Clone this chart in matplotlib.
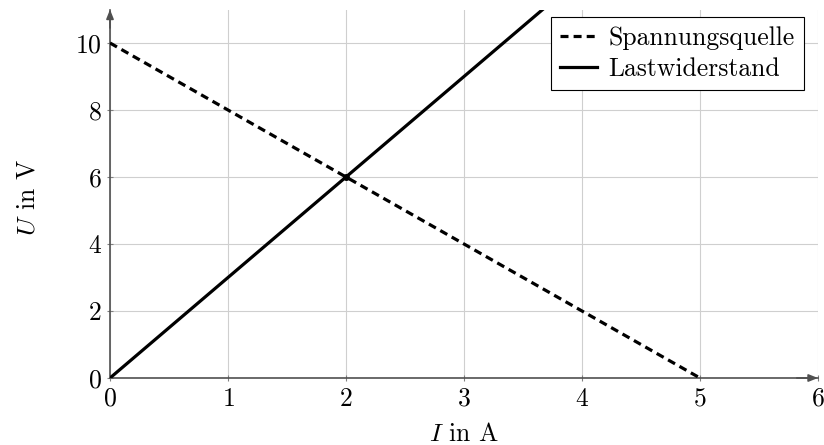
import matplotlib
matplotlib.use("Agg")
import matplotlib.pyplot as plt

# Kennlinien: Spannungsquelle (U0 = 10 V, Ik = 5 A) und Lastwiderstand (R = 3 Ohm)
source_I = [0, 5]
source_U = [10, 0]
load_I = [0, 4]
load_U = [0, 12]
work_point = (2, 6)

x_ticks = [0, 1, 2, 3, 4, 5, 6]
y_ticks = [0, 2, 4, 6, 8, 10]

plt.rcParams["font.family"] = ["cmr10", "DejaVu Serif"]
plt.rcParams["mathtext.fontset"] = "cm"
plt.rcParams["axes.formatter.use_mathtext"] = True

FS = 18.5
AXIS_COLOR = "#505050"


def add_arrow_heads(ax):
    """Small arrow tips at the ends of both axes."""
    style = "-|>,head_length=0.55,head_width=0.22"
    ax.annotate("", xy=(1.0, 0), xytext=(0.97, 0), xycoords="axes fraction",
                arrowprops=dict(arrowstyle=style, color=AXIS_COLOR, lw=1.2,
                                shrinkA=0, shrinkB=0), annotation_clip=False)
    ax.annotate("", xy=(0, 1.0), xytext=(0, 0.95), xycoords="axes fraction",
                arrowprops=dict(arrowstyle=style, color=AXIS_COLOR, lw=1.2,
                                shrinkA=0, shrinkB=0), annotation_clip=False)


def main():
    fig = plt.figure(figsize=(8.24, 4.45), dpi=100)
    fig.patch.set_facecolor("white")

    ax = fig.add_axes([110 / 824, 67 / 445, 708 / 824, 368.5 / 445])

    ax.plot(source_I, source_U, color="black", lw=2.3, dashes=(2.5, 1.6),
            dash_capstyle="butt", label="Spannungsquelle", zorder=3)
    ax.plot(load_I, load_U, color="black", lw=2.3, label="Lastwiderstand",
            zorder=3)
    ax.plot(*work_point, "o", color="black", ms=4, zorder=4)

    ax.set_xlim(0, 6)
    ax.set_ylim(0, 11)
    ax.set_xticks(x_ticks)
    ax.set_yticks(y_ticks)
    ax.grid(True, color="#cfcfcf", lw=0.8, zorder=0)
    ax.set_axisbelow(True)

    for side in ("top", "right"):
        ax.spines[side].set_visible(False)
    for side in ("left", "bottom"):
        ax.spines[side].set_color(AXIS_COLOR)
        ax.spines[side].set_linewidth(1.2)
    ax.tick_params(direction="inout", length=4, width=0.8, color="#808080",
                   labelsize=FS, labelcolor="black")
    ax.tick_params(axis="x", pad=4.5)
    ax.tick_params(axis="y", pad=4)

    add_arrow_heads(ax)

    ax.set_xlabel(r"$I$ in A", fontsize=FS, va="baseline")
    ax.xaxis.set_label_coords(0.5, -0.171)
    ax.set_ylabel(r"$U$ in V", fontsize=FS, va="center")
    ax.yaxis.set_label_coords(-0.116, 0.49)

    leg = ax.legend(loc="upper right", bbox_to_anchor=(0.980, 0.980),
                    borderaxespad=0, fontsize=FS, fancybox=False,
                    framealpha=1, edgecolor="black", handlelength=1.45,
                    handletextpad=0.45, borderpad=0.35, labelspacing=0.3)
    leg.get_frame().set_linewidth(0.8)

    fig.savefig("out.png", dpi=100)
    plt.close(fig)


if __name__ == "__main__":
    main()
